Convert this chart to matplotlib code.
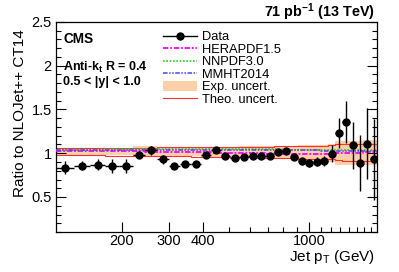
import numpy as np
import matplotlib
matplotlib.use("Agg")
import matplotlib.pyplot as plt
from matplotlib.lines import Line2D
from matplotlib.patches import Patch
from matplotlib.ticker import FixedLocator, NullFormatter, FixedFormatter

plt.rcParams['font.family'] = ['Liberation Sans', 'DejaVu Sans']
plt.rcParams['mathtext.fontset'] = 'custom'
plt.rcParams['mathtext.rm'] = 'Liberation Sans'
plt.rcParams['mathtext.it'] = 'Liberation Sans'
plt.rcParams['mathtext.bf'] = 'Liberation Sans:bold'

# ---- data ----
bin_edges = [114, 133, 153, 174, 196, 220, 245, 272, 300, 330, 362, 395, 430, 468,
             507, 548, 592, 638, 686, 737, 790, 846, 905, 967, 1032, 1101, 1172,
             1248, 1327, 1410, 1497, 1588, 1684, 1784]
data_ratio = [0.835, 0.86, 0.87, 0.85, 0.86, 0.985, 1.035, 0.93, 0.86, 0.88, 0.88,
              0.977, 1.035, 0.973, 0.95, 0.957, 0.965, 0.965, 0.973, 1.01, 1.03,
              0.957, 0.91, 0.89, 0.905, 0.91, 0.997, 1.23, 1.355, 1.09, 0.89, 1.11, 0.93]
data_err = [0.077, 0.05, 0.06, 0.08, 0.08, 0.04, 0.05, 0.05, 0.015, 0.015, 0.015,
            0.015, 0.02, 0.015, 0.015, 0.015, 0.015, 0.015, 0.015, 0.02, 0.02,
            0.03, 0.04, 0.05, 0.05, 0.06, 0.10, 0.17, 0.24, 0.27, 0.32, 0.41, 0.46]
exp_up = [1.065, 1.065, 1.065, 1.065, 1.065, 1.08, 1.08, 1.075, 1.075, 1.075, 1.075,
          1.075, 1.075, 1.075, 1.075, 1.078, 1.078, 1.08, 1.08, 1.082, 1.085, 1.085,
          1.09, 1.09, 1.09, 1.09, 1.10, 1.14, 1.14, 1.145, 1.145, 1.15, 1.15]
exp_dn = [0.975, 0.975, 0.975, 0.975, 0.975, 0.96, 0.96, 0.965, 0.965, 0.965, 0.965,
          0.962, 0.962, 0.96, 0.96, 0.958, 0.958, 0.955, 0.955, 0.95, 0.945, 0.94,
          0.925, 0.92, 0.92, 0.92, 0.90, 0.87, 0.87, 0.865, 0.865, 0.86, 0.86]
theo_up = [1.055, 1.055, 1.058, 1.06, 1.06, 1.062, 1.065, 1.068, 1.07, 1.07, 1.072,
           1.072, 1.075, 1.075, 1.075, 1.075, 1.076, 1.076, 1.077, 1.078, 1.078, 1.08,
           1.08, 1.08, 1.08, 1.08, 1.09, 1.10, 1.105, 1.105, 1.11, 1.11, 1.11]
theo_dn = [0.977, 0.977, 0.975, 0.973, 0.972, 0.97, 0.968, 0.966, 0.965, 0.964, 0.962,
           0.961, 0.96, 0.958, 0.956, 0.955, 0.953, 0.95, 0.948, 0.946, 0.944, 0.942,
           0.94, 0.94, 0.94, 0.94, 0.93, 0.92, 0.915, 0.91, 0.91, 0.91, 0.91]
hera = [1.03, 1.03, 1.028, 1.027, 1.025, 1.023, 1.02, 1.018, 1.016, 1.014, 1.012,
        1.01, 1.008, 1.006, 1.004, 1.002, 1.0, 0.998, 0.996, 0.995, 0.994, 0.993,
        0.992, 0.992, 0.993, 0.994, 0.996, 0.998, 1.0, 1.003, 1.006, 1.01, 1.015]
nnpdf = [1.042, 1.042, 1.042, 1.043, 1.043, 1.043, 1.044, 1.044, 1.044, 1.045, 1.045,
         1.045, 1.045, 1.045, 1.045, 1.045, 1.044, 1.044, 1.043, 1.043, 1.042, 1.041,
         1.04, 1.04, 1.039, 1.038, 1.037, 1.036, 1.035, 1.035, 1.035, 1.035, 1.035]
mmht = [1.036, 1.036, 1.037, 1.037, 1.038, 1.038, 1.039, 1.04, 1.04, 1.04, 1.041,
        1.041, 1.041, 1.041, 1.041, 1.04, 1.04, 1.039, 1.038, 1.037, 1.036, 1.035,
        1.034, 1.033, 1.032, 1.031, 1.03, 1.03, 1.029, 1.029, 1.028, 1.028, 1.028]

edges = np.array(bin_edges, dtype=float)
centers = np.sqrt(edges[:-1] * edges[1:])
def ext(a):
    a = list(a)
    return np.array(a + [a[-1]])

W, H = 399, 272
fig = plt.figure(figsize=(W / 100, H / 100), dpi=100)
ax = fig.add_axes([56 / W, 1 - 232 / H, (377 - 56) / W, (232 - 22) / H])
ax.set_xscale('log')
ax.set_xlim(114, 1784)
ax.set_ylim(0.1, 2.5)

ax.fill_between(edges, ext(exp_dn), ext(exp_up), step='post', color='#fdc89a',
                alpha=0.85, lw=0, zorder=1)
ax.step(edges, ext(theo_up), where='post', color='#ff3030', lw=0.8, zorder=2)
ax.step(edges, ext(theo_dn), where='post', color='#ff3030', lw=0.8, zorder=2)
ax.step(edges, ext(hera), where='post', color='#ff00ff', lw=1.3,
        dashes=(3, 1, 1, 1), zorder=3)
ax.step(edges, ext(nnpdf), where='post', color='#22cc22', lw=1.2,
        dashes=(1, 1), zorder=3)
ax.step(edges, ext(mmht), where='post', color='#4444ee', lw=1.1,
        dashes=(3, 1, 1, 1, 1, 1), zorder=3)

xerr = [centers - edges[:-1], edges[1:] - centers]
ax.errorbar(centers, data_ratio, yerr=data_err, xerr=xerr, fmt='o', color='black',
            ms=5, elinewidth=1.0, capsize=0, zorder=5)

# ticks
ax.yaxis.set_major_locator(FixedLocator([0.5, 1.0, 1.5, 2.0, 2.5]))
ax.yaxis.set_major_formatter(FixedFormatter(['0.5', '1', '1.5', '2', '2.5']))
ax.yaxis.set_minor_locator(FixedLocator(np.arange(0.1, 2.5, 0.1)))
ax.xaxis.set_major_locator(FixedLocator([200, 300, 400, 1000]))
ax.xaxis.set_major_formatter(FixedFormatter(['200', '300', '400', '1000']))
ax.xaxis.set_minor_locator(FixedLocator([500, 600, 700, 800, 900, 1100, 1200, 1300,
                                         1400, 1500, 1600, 1700]))
ax.xaxis.set_minor_formatter(NullFormatter())
ax.tick_params(axis='both', which='both', direction='in', top=False, right=True,
               labelsize=10.5, width=0.8, colors='black')
ax.tick_params(axis='y', which='major', length=7, pad=3)
ax.tick_params(axis='y', which='minor', length=3.5)
ax.tick_params(axis='x', which='major', length=7, pad=1.5)
ax.tick_params(axis='x', which='minor', length=3.5)
for s in ax.spines.values():
    s.set_linewidth(0.9)

ax.set_ylabel('Ratio to NLOJet++ CT14', fontsize=11)
ax.yaxis.set_label_coords(27 / W, 1 - 29 / H, transform=fig.transFigure)
ax.yaxis.label.set_horizontalalignment('right')
ax.set_xlabel(r'Jet p$_\mathregular{T}$ (GeV)', fontsize=11)
ax.xaxis.set_label_coords(375 / W, 1 - 257 / H, transform=fig.transFigure)
ax.xaxis.label.set_horizontalalignment('right')
ax.xaxis.label.set_verticalalignment('center')

fig.text(375 / W, 1 - 12 / H, r'71 pb$^{\mathbf{-1}}$ (13 TeV)', ha='right', va='center',
         fontsize=10.4, fontweight='bold')
fig.text(63 / W, 1 - 39 / H, 'CMS', ha='left', va='center', fontsize=9.8,
         fontweight='bold')
fig.text(63 / W, 1 - 67 / H, r'Anti-k$_\mathbf{t}$ R = 0.4', ha='left', va='center',
         fontsize=9, fontweight='bold')
fig.text(63 / W, 1 - 82 / H, '0.5 < |y| < 1.0', ha='left', va='center', fontsize=9,
         fontweight='bold')

handles = [
    Line2D([], [], color='black', marker='o', ms=5, lw=1.0),
    Line2D([], [], color='#ff00ff', lw=1.3, dashes=(3, 1, 1, 1)),
    Line2D([], [], color='#22cc22', lw=1.2, dashes=(1, 1)),
    Line2D([], [], color='#4444ee', lw=1.1, dashes=(3, 1, 1, 1, 1, 1)),
    Patch(facecolor='#fdc89a', edgecolor='none', alpha=0.85),
    Line2D([], [], color='#ff3030', lw=0.8),
]
labels = ['Data', 'HERAPDF1.5', 'NNPDF3.0', 'MMHT2014', 'Exp. uncert.', 'Theo. uncert.']
leg = fig.legend(handles, labels, loc='upper left',
                 bbox_to_anchor=(163 / W, 1 - 31 / H), frameon=False, fontsize=9.3,
                 handlelength=2.6, handletextpad=0.45, labelspacing=0.0,
                 borderaxespad=0, borderpad=0, handleheight=0.8)

fig.savefig('out.png', dpi=100)
